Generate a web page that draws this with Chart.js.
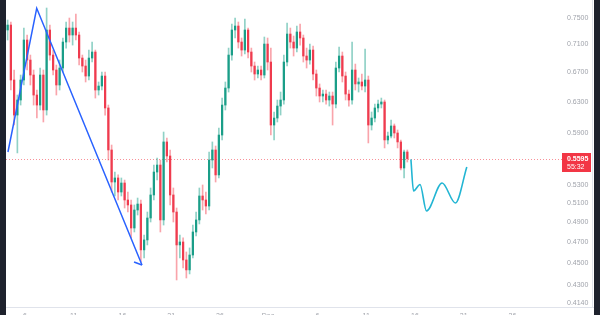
<!DOCTYPE html>
<html><head><meta charset="utf-8">
<script src="https://cdn.jsdelivr.net/npm/chart.js@4.4.0/dist/chart.umd.min.js"></script>
<style>
html,body{margin:0;padding:0;width:600px;height:315px;overflow:hidden;background:#1e222d;}
#wrap{position:absolute;left:6px;top:0;width:588px;height:330px;background:#ffffff;}
canvas{display:block;}
</style></head><body>
<div id="wrap"><canvas id="c" width="588" height="330"></canvas></div>
<script>
const opens=[0.7315,0.7391,0.6591,0.6127,0.6322,0.6591,0.7164,0.6871,0.6660,0.6388,
0.6256,0.6660,0.6192,0.7315,0.6943,0.6730,0.6523,0.6758,0.7134,0.7345,
0.7239,0.7345,0.7239,0.6900,0.6786,0.6646,0.6900,0.6987,0.6455,0.6509,
0.6646,0.6218,0.5697,0.5329,0.5374,0.5219,0.5318,0.5133,0.5080,0.4842,
0.5027,0.5090,0.4626,0.4723,0.4944,0.5187,0.5441,0.5521,0.4924,0.5793,
0.5626,0.5187,0.5006,0.4674,0.4703,0.4530,0.4437,0.4577,0.4802,0.4924,
0.5176,0.5133,0.5069,0.5579,0.5697,0.5408,0.5877,0.6256,0.6482,0.6943,
0.7315,0.7376,0.7134,0.7016,0.7315,0.6987,0.6786,0.6674,0.6730,0.6660,
0.7104,0.6843,0.6001,0.6089,0.6243,0.6322,0.6843,0.7254,0.7134,0.7045,
0.7285,0.7194,0.6929,0.6871,0.7016,0.6674,0.6482,0.6375,0.6401,0.6322,
0.6375,0.6269,0.6758,0.6929,0.6646,0.6401,0.6322,0.6730,0.6537,0.6564,
0.6509,0.6591,0.6001,0.6089,0.6218,0.6269,0.6296,0.5817,0.5865,0.5989,
0.5902,0.5793,0.5487,0.5673];
const highs=[0.7469,0.7438,0.6730,0.6388,0.6660,0.7345,0.7239,0.6943,0.6730,0.6455,
0.6758,0.6730,0.7658,0.7391,0.7016,0.6800,0.6871,0.7194,0.7438,0.7500,
0.7438,0.7563,0.7285,0.6943,0.6871,0.7016,0.7134,0.7016,0.6564,0.6702,
0.6702,0.6256,0.5756,0.5441,0.5408,0.5374,0.5351,0.5219,0.5133,0.5080,
0.5154,0.5133,0.4772,0.5006,0.5263,0.5521,0.5602,0.5579,0.5914,0.5841,
0.5697,0.5263,0.5048,0.4772,0.4743,0.4606,0.4645,0.4872,0.5006,0.5263,
0.5296,0.5219,0.5673,0.5793,0.5744,0.5964,0.6348,0.6564,0.7045,0.7406,
0.7500,0.7438,0.7194,0.7484,0.7345,0.7045,0.6843,0.6786,0.6786,0.7209,
0.7194,0.7045,0.6166,0.6322,0.6428,0.6943,0.7422,0.7345,0.7224,0.7376,
0.7406,0.7239,0.7045,0.7104,0.7074,0.6730,0.6537,0.6455,0.6455,0.6428,
0.6428,0.6843,0.7060,0.6987,0.6702,0.6455,0.7134,0.6814,0.6619,0.6674,
0.7031,0.6646,0.6166,0.6269,0.6322,0.6348,0.6322,0.5914,0.6064,0.6014,
0.5939,0.5817,0.5697,0.5697];
const lows=[0.7164,0.6455,0.6001,0.5662,0.6256,0.6523,0.6730,0.6523,0.6256,0.6089,
0.6192,0.6039,0.6127,0.6871,0.6660,0.6388,0.6455,0.6702,0.7045,0.7134,
0.7089,0.7164,0.6800,0.6702,0.6564,0.6591,0.6843,0.6348,0.6388,0.6455,
0.6127,0.5579,0.5219,0.5176,0.5133,0.5176,0.5048,0.5006,0.4743,0.4802,
0.4975,0.4511,0.4549,0.4674,0.4903,0.5133,0.5351,0.4802,0.4872,0.5556,
0.5080,0.4903,0.4345,0.4549,0.4455,0.4363,0.4400,0.4549,0.4762,0.4883,
0.5027,0.4985,0.5027,0.5487,0.5329,0.5374,0.5817,0.6192,0.6428,0.6871,
0.7194,0.7045,0.6929,0.6958,0.6900,0.6702,0.6591,0.6619,0.6591,0.6619,
0.6730,0.5877,0.5817,0.6039,0.6127,0.6269,0.6786,0.7045,0.6929,0.6987,
0.7089,0.6843,0.6758,0.6814,0.6591,0.6375,0.6296,0.6296,0.6269,0.6243,
0.6001,0.6218,0.6702,0.6564,0.6322,0.6243,0.6269,0.6455,0.6428,0.6455,
0.6428,0.5781,0.5939,0.6039,0.6166,0.6218,0.5721,0.5768,0.5841,0.5841,
0.5721,0.5464,0.5374,0.5556];
const closes=[0.7391,0.6591,0.6127,0.6322,0.6591,0.7164,0.6871,0.6660,0.6388,0.6256,
0.6660,0.6192,0.7315,0.6943,0.6730,0.6523,0.6758,0.7134,0.7345,0.7239,
0.7345,0.7239,0.6900,0.6786,0.6646,0.6900,0.6987,0.6455,0.6509,0.6646,
0.6218,0.5697,0.5329,0.5374,0.5219,0.5318,0.5133,0.5080,0.4842,0.5027,
0.5090,0.4626,0.4723,0.4944,0.5187,0.5441,0.5521,0.4924,0.5793,0.5626,
0.5187,0.5006,0.4674,0.4703,0.4530,0.4437,0.4577,0.4802,0.4924,0.5176,
0.5133,0.5069,0.5579,0.5697,0.5408,0.5877,0.6256,0.6482,0.6943,0.7315,
0.7376,0.7134,0.7016,0.7315,0.6987,0.6786,0.6674,0.6730,0.6660,0.7104,
0.6843,0.6001,0.6089,0.6243,0.6322,0.6843,0.7254,0.7134,0.7045,0.7285,
0.7194,0.6929,0.6871,0.7016,0.6674,0.6482,0.6375,0.6401,0.6322,0.6375,
0.6269,0.6758,0.6929,0.6646,0.6401,0.6322,0.6730,0.6537,0.6564,0.6509,
0.6591,0.6001,0.6089,0.6218,0.6269,0.6296,0.5817,0.5865,0.5989,0.5902,
0.5793,0.5487,0.5673,0.5595];

// hand-drawn trend line (bar index, price)
const trendX=[0.1,8.95,41.35];
const trendY=[0.5673,0.7653,0.4483];
const arrowX=[38.9,41.35];
const arrowY=[0.4511,0.4483];
// projected path
const projX=[124.1,124.9,126.9,128.9,133.7,137.8,141.3];
const projY=[0.5587,0.5230,0.5301,0.5017,0.5318,0.5101,0.5498];

const yTickVals=[0.4140,0.4300,0.4500,0.4700,0.4900,0.5100,0.5300,0.5900,0.6300,0.6700,0.7100,0.7500];
const xTickPos=[5.35,20.35,35.35,50.35,65.35,80.1,95.35,110.35,125.35,140.35,155.35];
const xTickLabels=['6','11','16','21','26','Dec','6','11','16','21','26'];
const countdown='55:32';

const UP='#1a9e88', DOWN='#ef3b4e';
const UPW='rgba(8,153,129,0.45)', DOWNW='rgba(242,54,69,0.45)';
const isUp=opens.map((o,i)=>closes[i]>=o);
const lastPrice=closes[closes.length-1];

const overlay={
  id:'overlay',
  beforeDatasetsDraw(ch){
    const {ctx,chartArea:a,scales:{y}}=ch;
    const py=Math.round(y.getPixelForValue(lastPrice))+0.5;
    ctx.save();
    ctx.strokeStyle='rgba(242,54,69,0.55)';
    ctx.setLineDash([1,2]);
    ctx.lineWidth=1;
    ctx.beginPath();ctx.moveTo(a.left,py);ctx.lineTo(a.right,py);ctx.stroke();
    ctx.restore();
  },
  afterDraw(ch){
    const {ctx,chartArea:a,scales:{y}}=ch;
    ctx.save();
    ctx.strokeStyle='#e0e3eb';ctx.lineWidth=1;
    ctx.beginPath();ctx.moveTo(0,a.bottom+0.5);ctx.lineTo(588,a.bottom+0.5);ctx.stroke();
    ctx.beginPath();ctx.moveTo(586.5,0);ctx.lineTo(586.5,a.bottom+1);ctx.stroke();
    const py=y.getPixelForValue(lastPrice);
    ctx.fillStyle=(isUp[isUp.length-1])?'#089981':'#f23645';
    ctx.fillRect(a.right-1,Math.round(py-5.5),29,19);
    ctx.fillStyle='#ffffff';
    ctx.textBaseline='middle';ctx.textAlign='left';
    ctx.font='bold 7px "Liberation Sans", Arial, sans-serif';
    ctx.fillText(lastPrice.toFixed(4),a.right+4,py);
    ctx.font='7px "Liberation Sans", Arial, sans-serif';
    ctx.fillText(countdown,a.right+4,py+8);
    ctx.restore();
  }
};

new Chart(document.getElementById('c'),{
  type:'bar',
  data:{datasets:[
    {type:'line',data:trendX.map((x,i)=>({x,y:trendY[i]})),borderColor:'#2962ff',borderWidth:1.5,pointRadius:0,tension:0,order:0},
    {type:'line',data:arrowX.map((x,i)=>({x,y:arrowY[i]})),borderColor:'#2962ff',borderWidth:1.5,pointRadius:0,tension:0,order:0},
    {type:'line',data:projX.map((x,i)=>({x,y:projY[i]})),borderColor:'#22b5d3',borderWidth:1.6,pointRadius:0,cubicInterpolationMode:'monotone',order:0},
    {data:opens.map((o,i)=>({x:i,y:[o,closes[i]]})),backgroundColor:isUp.map(u=>u?UP:DOWN),barThickness:1.6,grouped:false,minBarLength:1,order:1},
    {data:opens.map((o,i)=>({x:i,y:[lows[i],highs[i]]})),backgroundColor:isUp.map(u=>u?UPW:DOWNW),barThickness:1,grouped:false,order:2}
  ]},
  options:{
    responsive:false,animation:false,
    layout:{padding:0,autoPadding:false},
    plugins:{legend:{display:false},tooltip:{enabled:false}},
    scales:{
      x:{type:'linear',min:-0.5,max:170.9,offset:false,
        afterBuildTicks:s=>{s.ticks=xTickPos.map(v=>({value:v}));},
        afterFit:s=>{s.height=23;s.paddingLeft=0;s.paddingRight=0;},
        grid:{display:false,drawTicks:false,offset:false},border:{display:false},
        ticks:{autoSkip:false,maxRotation:0,padding:5,color:'#a0a3ab',
          font:{family:'Liberation Sans',size:7},
          callback:(v,i)=>xTickLabels[i]}},
      y:{type:'logarithmic',position:'right',min:0.4107,max:0.7787,
        afterBuildTicks:s=>{s.ticks=yTickVals.map(v=>({value:v}));},
        afterFit:s=>{s.width=31;s.paddingTop=0;s.paddingBottom=0;},
        grid:{display:false,drawTicks:false},border:{display:false},
        ticks:{autoSkip:false,padding:4,color:'#a0a3ab',
          font:{family:'Liberation Sans',size:7},
          callback:v=>Number(v).toFixed(4)}}
    }
  },
  plugins:[overlay]
});
</script>
</body></html>
